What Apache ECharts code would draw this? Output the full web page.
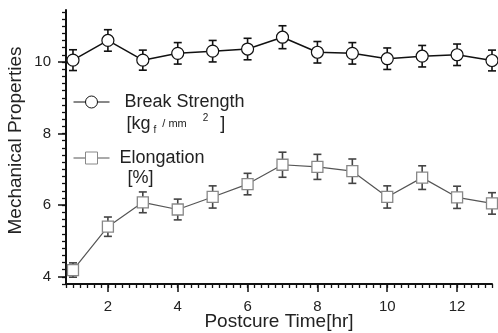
<!DOCTYPE html>
<html>
<head>
<meta charset="utf-8">
<title>Mechanical Properties</title>
<script src="https://cdn.jsdelivr.net/npm/echarts@6/dist/echarts.min.js"></script>
<style>
  html, body { margin: 0; padding: 0; background: #fff; }
  #chart { width: 498px; height: 333px; }
</style>
</head>
<body>
<div id="chart"></div>
<script>
// data
var hours = [1, 2, 3, 4, 5, 6, 7, 8, 9, 10, 11, 12, 13];
var strength = [10.05, 10.6, 10.05, 10.24, 10.3, 10.36, 10.69, 10.27, 10.24, 10.09, 10.16, 10.2, 10.04];
var strengthErr = [0.29, 0.3, 0.28, 0.3, 0.3, 0.3, 0.32, 0.3, 0.3, 0.3, 0.3, 0.3, 0.29];
var elongation = [4.19, 5.40, 6.08, 5.88, 6.23, 6.59, 7.13, 7.07, 6.95, 6.23, 6.77, 6.22, 6.05];
var elongationErr = [0.2, 0.27, 0.29, 0.29, 0.31, 0.3, 0.35, 0.35, 0.34, 0.31, 0.33, 0.31, 0.3];
var xLabels = [2, 4, 6, 8, 10, 12];
var yLabels = [4, 6, 8, 10];

var FONT = 'Liberation Sans, Arial, sans-serif';
var X_MIN = 0.8, X_MAX = 13, Y_MIN = 3.8, Y_MAX = 11.45;

// minor tick positions every 0.2
var xMinor = [], yMinor = [];
for (var i = 8; i <= 130; i += 2) xMinor.push(i / 10);
for (var j = 38; j <= 114; j += 2) yMinor.push(j / 10);

function errBars(vals, errs) {
    return hours.map(function (h, k) { return [h, vals[k] - errs[k], vals[k] + errs[k]]; });
}

function errRender(color, lw) {
    return function (params, api) {
        var lo = api.coord([api.value(0), api.value(1)]);
        var hi = api.coord([api.value(0), api.value(2)]);
        var w = 4;
        var st = { stroke: color, lineWidth: lw };
        return {
            type: 'group',
            children: [
                { type: 'line', shape: { x1: lo[0], y1: lo[1], x2: hi[0], y2: hi[1] }, style: st },
                { type: 'line', shape: { x1: lo[0] - w, y1: lo[1], x2: lo[0] + w, y2: lo[1] }, style: st },
                { type: 'line', shape: { x1: hi[0] - w, y1: hi[1], x2: hi[0] + w, y2: hi[1] }, style: st }
            ]
        };
    };
}

var axisLine = { show: true, lineStyle: { color: '#111', width: 2 } };
var labelStyle = { color: '#222', fontSize: 15, fontFamily: FONT };
var legendText = { color: '#222', fontFamily: FONT, fontSize: 18 };

var chart = echarts.init(document.getElementById('chart'));
chart.setOption({
    animation: false,
    grid: { left: 66, right: 6, top: 10, bottom: 49, containLabel: false, outerBoundsMode: 'none' },
    xAxis: [{
        type: 'value', min: X_MIN, max: X_MAX,
        axisLine: axisLine,
        axisTick: { show: true, customValues: xMinor, length: 4, lineStyle: { color: '#111', width: 1.3 } },
        axisLabel: { show: false },
        splitLine: { show: false }
    }, {
        type: 'value', min: X_MIN, max: X_MAX, position: 'bottom',
        axisLine: { show: false },
        axisTick: { show: true, customValues: xLabels, length: 8, lineStyle: { color: '#111', width: 1.5 } },
        axisLabel: Object.assign({ customValues: xLabels, margin: 15 }, labelStyle),
        splitLine: { show: false },
        name: 'Postcure Time[hr]', nameLocation: 'middle', nameGap: 28, nameMoveOverlap: false,
        nameTextStyle: { color: '#222', fontSize: 19, fontFamily: FONT }
    }],
    yAxis: [{
        type: 'value', min: Y_MIN, max: Y_MAX,
        axisLine: axisLine,
        axisTick: { show: true, customValues: yMinor, length: 4, lineStyle: { color: '#111', width: 1.3 } },
        axisLabel: { show: false },
        splitLine: { show: false }
    }, {
        type: 'value', min: Y_MIN, max: Y_MAX, position: 'left',
        axisLine: { show: false },
        axisTick: { show: true, customValues: yLabels, length: 8, lineStyle: { color: '#111', width: 1.5 } },
        axisLabel: Object.assign({ customValues: yLabels, margin: 15 }, labelStyle),
        splitLine: { show: false },
        name: 'Mechanical Properties', nameLocation: 'middle', nameGap: 41, nameMoveOverlap: false,
        nameTextStyle: { color: '#222', fontSize: 19, fontFamily: FONT, padding: [0, 0, 0, 13] }
    }],
    legend: [{
        data: ['Break Strength'], left: 73, top: 71, padding: 0,
        itemWidth: 36, itemHeight: 15, selectedMode: false,
        lineStyle: { width: 1 },
        itemStyle: { borderWidth: 1 },
        formatter: function () {
            return '{p| }\n{a|Break Strength}\n{b|[kg}{s|f}{m|/ mm}{u|2}{c|]}';
        },
        textStyle: Object.assign({
            rich: {
                p: { fontSize: 18, lineHeight: 22 },
                a: { fontSize: 18, lineHeight: 22, padding: [0, 0, 0, 10] },
                b: { fontSize: 18, lineHeight: 22, padding: [0, 0, 0, 12] },
                s: { fontSize: 10, lineHeight: 22, verticalAlign: 'bottom', padding: [0, 0, 0, 3] },
                m: { fontSize: 11, lineHeight: 22, padding: [0, 0, 0, 6] },
                u: { fontSize: 10, lineHeight: 22, verticalAlign: 'top', padding: [0, 0, 0, 16] },
                c: { fontSize: 18, lineHeight: 22, padding: [0, 0, 0, 12] }
            }
        }, legendText)
    }, {
        data: ['Elongation'], left: 73, top: 129, padding: 0,
        itemWidth: 36, itemHeight: 15, selectedMode: false,
        lineStyle: { width: 1 },
        itemStyle: { borderWidth: 1 },
        formatter: function () {
            return '{p| }\n{a|Elongation}\n{b|[%]}';
        },
        textStyle: Object.assign({
            rich: {
                p: { fontSize: 18, lineHeight: 20 },
                a: { fontSize: 18, lineHeight: 20, padding: [0, 0, 0, 5] },
                b: { fontSize: 18, lineHeight: 20, padding: [0, 0, 0, 13] }
            }
        }, legendText)
    }],
    series: [{
        type: 'custom', name: 'strengthErr', z: 1,
        renderItem: errRender('#111', 1.6),
        encode: { x: 0, y: [1, 2] },
        data: errBars(strength, strengthErr)
    }, {
        type: 'custom', name: 'elongationErr', z: 1,
        renderItem: errRender('#444', 1.6),
        encode: { x: 0, y: [1, 2] },
        data: errBars(elongation, elongationErr)
    }, {
        type: 'line', name: 'Break Strength', z: 3,
        data: hours.map(function (h, k) { return [h, strength[k]]; }),
        symbol: 'circle', symbolSize: 12,
        itemStyle: { color: '#fff', borderColor: '#111', borderWidth: 1.2 },
        lineStyle: { color: '#111', width: 1.5 },
        emphasis: { disabled: true }
    }, {
        type: 'line', name: 'Elongation', z: 3,
        data: hours.map(function (h, k) { return [h, elongation[k]]; }),
        symbol: 'rect', symbolSize: 11,
        itemStyle: { color: '#fff', borderColor: '#888', borderWidth: 1.3 },
        lineStyle: { color: '#555', width: 1.2 },
        emphasis: { disabled: true }
    }]
});
</script>
</body>
</html>
